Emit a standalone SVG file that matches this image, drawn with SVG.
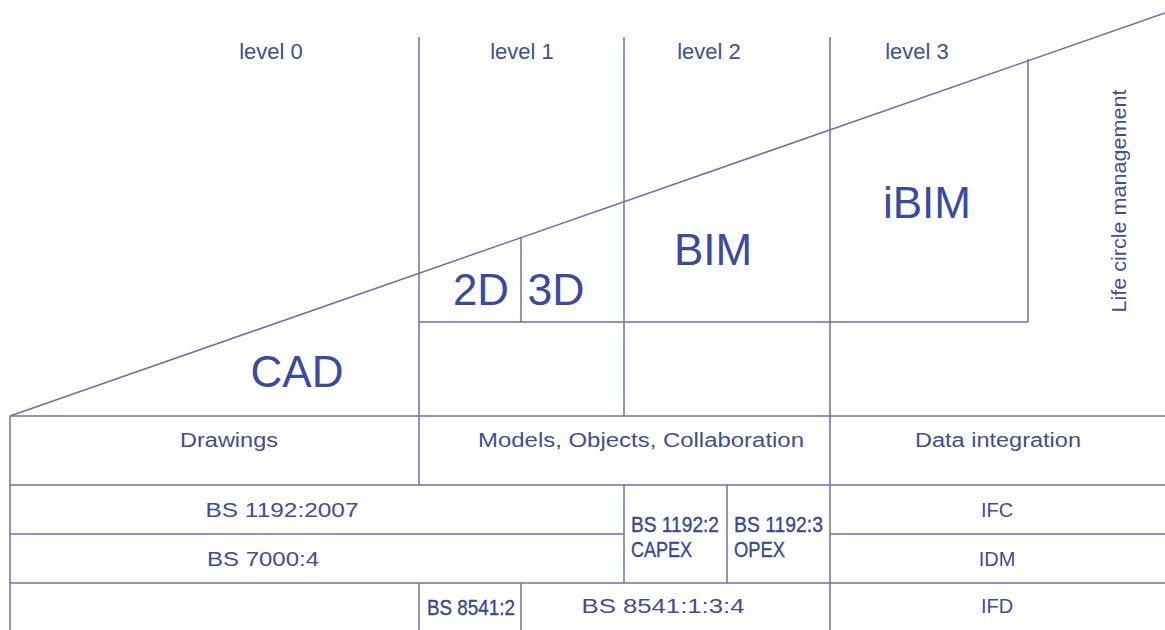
<svg xmlns="http://www.w3.org/2000/svg" width="1165" height="630" viewBox="0 0 1165 630">
<style>
.ln{stroke:#6a6fb3;stroke-width:1.5;fill:none}
.t{font-family:"Liberation Sans",Arial,sans-serif;fill:#434d92}
.lv{font-size:22px;text-anchor:middle}
.big{font-size:44px;fill:#3a4aa0;text-anchor:middle}
.tb{font-size:20px;text-anchor:middle}
.sm{font-size:22px;fill:#3a4690;stroke:#3a4690;stroke-width:0.35}
</style>
<rect width="1165" height="630" fill="#ffffff"/>
<g id="grid">
<line class="ln" x1="10" y1="416" x2="1165" y2="13"/>
<line class="ln" x1="419" y1="37" x2="419" y2="485"/>
<line class="ln" x1="419" y1="583" x2="419" y2="630"/>
<line class="ln" x1="624" y1="37" x2="624" y2="416"/>
<line class="ln" x1="624" y1="485" x2="624" y2="583"/>
<line class="ln" x1="830" y1="37" x2="830" y2="630"/>
<line class="ln" x1="1028" y1="59" x2="1028" y2="322"/>
<line class="ln" x1="521" y1="238" x2="521" y2="322"/>
<line class="ln" x1="521" y1="583" x2="521" y2="630"/>
<line class="ln" x1="727" y1="485" x2="727" y2="583"/>
<line class="ln" x1="10" y1="416" x2="10" y2="630"/>
<line class="ln" x1="419" y1="322" x2="1028" y2="322"/>
<line class="ln" x1="10" y1="416" x2="1165" y2="416"/>
<line class="ln" x1="10" y1="485" x2="1165" y2="485"/>
<line class="ln" x1="10" y1="534" x2="624" y2="534"/>
<line class="ln" x1="830" y1="534" x2="1165" y2="534"/>
<line class="ln" x1="10" y1="583" x2="1165" y2="583"/>
</g>
<g id="level0"><text class="t lv" x="271" y="59">level 0</text></g>
<g id="level1"><text class="t lv" x="522" y="59">level 1</text></g>
<g id="level2"><text class="t lv" x="709" y="59">level 2</text></g>
<g id="level3"><text class="t lv" x="917" y="59">level 3</text></g>
<g id="cad"><text class="t big" x="297" y="387">CAD</text></g>
<g id="d2"><text class="t big" x="481" y="305" textLength="56" lengthAdjust="spacingAndGlyphs">2D</text></g>
<g id="d3"><text class="t big" x="556" y="305" textLength="57" lengthAdjust="spacingAndGlyphs">3D</text></g>
<g id="bim"><text class="t big" x="713" y="265">BIM</text></g>
<g id="ibim"><text class="t big" x="927" y="218">iBIM</text></g>
<g id="lifecycle"><text class="t" font-size="20" text-anchor="middle" transform="translate(1126,201) rotate(-90)" textLength="223" lengthAdjust="spacingAndGlyphs">Life circle management</text></g>
<g id="drawings"><text class="t tb" x="229" y="447" textLength="98" lengthAdjust="spacingAndGlyphs">Drawings</text></g>
<g id="models"><text class="t tb" x="641" y="447" textLength="326" lengthAdjust="spacingAndGlyphs">Models, Objects, Collaboration</text></g>
<g id="dataint"><text class="t tb" x="998" y="447" textLength="166" lengthAdjust="spacingAndGlyphs">Data integration</text></g>
<g id="bs1192_2007"><text class="t tb" x="282" y="517" textLength="153" lengthAdjust="spacingAndGlyphs">BS 1192:2007</text></g>
<g id="bs7000"><text class="t tb" x="263" y="566" textLength="112" lengthAdjust="spacingAndGlyphs">BS 7000:4</text></g>
<g id="bs1192_2"><text class="t sm" x="631" y="532" textLength="88" lengthAdjust="spacingAndGlyphs">BS 1192:2</text><text class="t sm" x="631" y="557" textLength="61" lengthAdjust="spacingAndGlyphs">CAPEX</text></g>
<g id="bs1192_3"><text class="t sm" x="734" y="532" textLength="89" lengthAdjust="spacingAndGlyphs">BS 1192:3</text><text class="t sm" x="734" y="557" textLength="51" lengthAdjust="spacingAndGlyphs">OPEX</text></g>
<g id="ifc"><text class="t tb" x="997" y="517">IFC</text></g>
<g id="idm"><text class="t tb" x="997" y="566">IDM</text></g>
<g id="ifd"><text class="t tb" x="997" y="613">IFD</text></g>
<g id="bs8541_2"><text class="t sm" x="427" y="615" textLength="88" lengthAdjust="spacingAndGlyphs">BS 8541:2</text></g>
<g id="bs8541_134"><text class="t tb" x="663" y="613" textLength="163" lengthAdjust="spacingAndGlyphs">BS 8541:1:3:4</text></g>
</svg>
